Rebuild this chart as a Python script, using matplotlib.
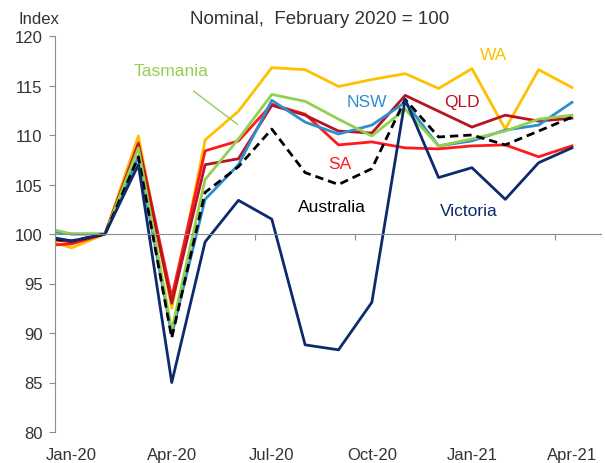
import matplotlib
matplotlib.use('Agg')
import matplotlib.pyplot as plt
from matplotlib.ticker import FixedLocator

plt.rcParams['font.family'] = ['Liberation Sans', 'DejaVu Sans']

# month offsets: first point sits half a month before Jan-20
months = [-0.5] + list(range(16))
tick_labels = ['Jan-20', 'Apr-20', 'Jul-20', 'Oct-20', 'Jan-21', 'Apr-21']
label_pos = [0, 3, 6, 9, 12, 15]
bounds = [-0.5, 2.5, 5.5, 8.5, 11.5, 14.5]

wa = [99.1, 98.6, 100, 109.9, 92.5, 109.5, 112.4, 116.8, 116.6, 114.9, 115.6, 116.2, 114.7, 116.7, 110.6, 116.6, 114.8]
sa = [98.9, 99.0, 100, 109.2, 93.6, 108.4, 109.4, 113.1, 112.1, 109.0, 109.3, 108.7, 108.6, 108.9, 109.0, 107.8, 108.9]
qld = [99.4, 99.2, 100, 109.0, 93.0, 107.0, 107.6, 113.0, 112.0, 110.4, 110.2, 114.0, 112.4, 110.8, 112.0, 111.4, 111.7]
nsw = [100.2, 100.0, 100, 107.8, 89.8, 103.5, 107.0, 113.5, 111.3, 110.1, 111.0, 113.3, 108.9, 109.4, 110.5, 111.0, 113.3]
tas = [100.4, 100.0, 100, 108.7, 90.3, 105.5, 109.6, 114.1, 113.4, 111.6, 109.9, 112.6, 108.9, 109.6, 110.4, 111.6, 112.0]
aus = [99.5, 99.3, 100, 107.8, 89.5, 104.2, 106.8, 110.6, 106.2, 105.0, 106.6, 113.6, 109.8, 110.0, 109.0, 110.4, 111.8]
vic = [99.6, 99.3, 100, 107.0, 85.0, 99.2, 103.4, 101.5, 88.8, 88.3, 93.1, 113.6, 105.7, 106.7, 103.5, 107.2, 108.7]

c_wa = '#FFC000'
c_sa = '#FF1A1A'
c_qld = '#B81420'
c_nsw = '#2E8FD0'
c_tas = '#92D050'
c_vic = '#0D2B6B'
grey = '#8C8C8C'
txt = '#333333'

fig = plt.figure(figsize=(6.05, 4.64), dpi=100)
ax = fig.add_axes([55 / 605, 1 - 433 / 464, (601 - 55) / 605, (433 - 37) / 464])

lw = 2.0
ax.plot(months, wa, color=c_wa, lw=lw)
ax.plot(months, sa, color=c_sa, lw=lw)
ax.plot(months, qld, color=c_qld, lw=lw)
ax.plot(months, nsw, color=c_nsw, lw=lw)
ax.plot(months, tas, color=c_tas, lw=lw)
ax.plot(months, aus, color='black', lw=lw, ls=(0, (3, 1.8)))
ax.plot(months, vic, color=c_vic, lw=lw)

ax.set_xlim(-0.5, 15.87)
ax.set_ylim(80, 120)

# axes styling
for s in ['top', 'right']:
    ax.spines[s].set_visible(False)
ax.spines['left'].set_color(grey)
ax.spines['bottom'].set_color(grey)
ax.spines['bottom'].set_position(('data', 100))
ax.xaxis.set_major_locator(FixedLocator(bounds))
ax.tick_params(axis='x', which='major', direction='out', length=4, color=grey, labelbottom=False)
ax.set_yticks(range(80, 121, 5))
ax.tick_params(axis='y', direction='out', length=4, color=grey, labelsize=12, labelcolor=txt, pad=5)

sec = ax.secondary_xaxis(0)
sec.set_xticks(label_pos)
sec.set_xticklabels(tick_labels)
sec.tick_params(length=0, labelsize=12, labelcolor=txt, pad=11)
sec.spines['bottom'].set_visible(False)

fig.text(18 / 605, 1 - 19 / 464, 'Index', fontsize=12, color=txt, va='center', ha='left')
fig.text(320 / 605, 1 - 19 / 464, 'Nominal,  February 2020 = 100', fontsize=13.5, color=txt,
         va='center', ha='center')

# series labels
fs = 12.5
ax.text(12.66, 118.1, 'WA', color=c_wa, fontsize=fs, ha='center', va='center')
ax.text(11.7, 113.4, 'QLD', color=c_qld, fontsize=fs, ha='center', va='center')
ax.text(8.85, 113.4, 'NSW', color=c_nsw, fontsize=fs, ha='center', va='center')
ax.text(8.04, 107.1, 'SA', color=c_sa, fontsize=fs, ha='center', va='center')
ax.text(7.8, 102.8, 'Australia', color='black', fontsize=fs, ha='center', va='center')
ax.text(11.9, 102.4, 'Victoria', color=c_vic, fontsize=fs, ha='center', va='center')
ax.text(2.99, 116.5, 'Tasmania', color=c_tas, fontsize=fs, ha='center', va='center')
ax.annotate('', xy=(5.04, 110.9), xytext=(3.59, 114.6),
            arrowprops=dict(arrowstyle='-', color=c_tas, lw=1))

fig.savefig('out.png', dpi=100)
